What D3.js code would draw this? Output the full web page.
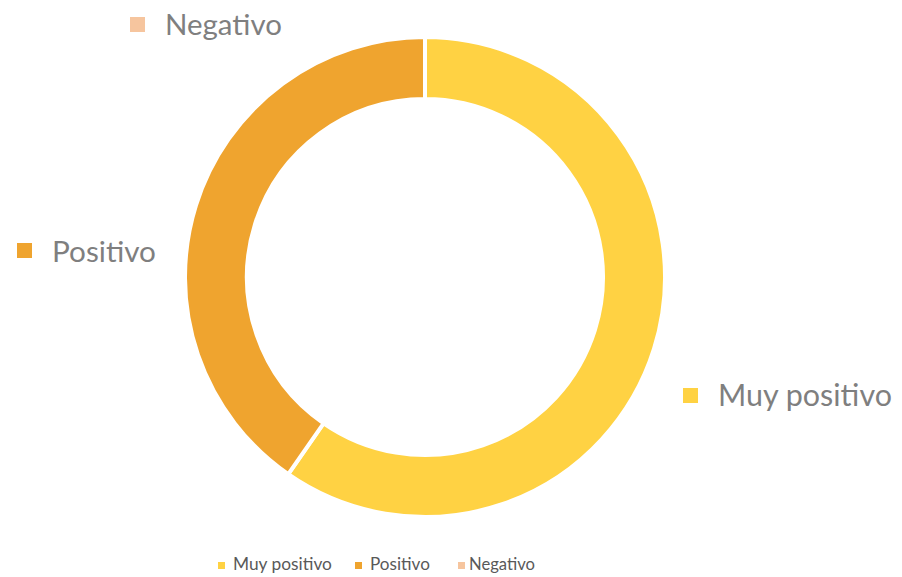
<!DOCTYPE html>
<html><head><meta charset="utf-8">
<script src="https://cdn.jsdelivr.net/npm/d3@7/dist/d3.min.js"></script>
<style>body{margin:0;background:#fff}svg{display:block}</style>
</head><body>
<svg id="c" width="902" height="577"></svg>
<script>
const categories = ["Muy positivo", "Positivo", "Negativo"];
const values = [34, 23, 0];
const colors = ["#FFD243", "#EFA42F", "#F6C59E"];

const svg = d3.select("#c");
const cx = 425, cy = 277, rOut = 240, rIn = 178;
const font = "Lato, 'Open Sans', sans-serif";
const textColor = "#7F7F7F";

const color = d3.scaleOrdinal().domain(categories).range(colors);
const data = categories.map((c, i) => ({cat: c, value: values[i]}));
const pie = d3.pie().value(d => d.value).sort(null);
const arc = d3.arc().innerRadius(rIn).outerRadius(rOut);

const g = svg.append("g").attr("transform", `translate(${cx},${cy})`);
g.selectAll("path").data(pie(data)).join("path")
  .attr("d", arc)
  .attr("fill", d => color(d.data.cat))
  .attr("stroke", "#fff").attr("stroke-width", 4).attr("stroke-linejoin", "miter");

function fitText(sel, w) {
  const n = sel.node();
  const len = n.getComputedTextLength();
  const fs = parseFloat(sel.attr("font-size"));
  sel.attr("font-size", fs * w / len);
}

// data labels (category names)
const labels = [
  {cat: "Muy positivo", sx: 683, sy: 388, s: 15, tx: 718, ty: 406, w: 174},
  {cat: "Positivo", sx: 17, sy: 243, s: 15, tx: 52, ty: 262, w: 104},
  {cat: "Negativo", sx: 130, sy: 17, s: 15, tx: 165, ty: 35, w: 117}
];
labels.forEach(l => {
  svg.append("rect").attr("x", l.sx).attr("y", l.sy).attr("width", l.s).attr("height", l.s)
    .attr("fill", color(l.cat));
  const t = svg.append("text").attr("x", l.tx).attr("y", l.ty)
    .attr("font-family", font).attr("font-size", 28).attr("fill", textColor).text(l.cat);
  fitText(t, l.w);
});

// legend
const legend = [
  {cat: "Muy positivo", sx: 218, tx: 233, w: 99},
  {cat: "Positivo", sx: 355, tx: 370, w: 60},
  {cat: "Negativo", sx: 458, tx: 469, w: 66}
];
legend.forEach(l => {
  svg.append("rect").attr("x", l.sx).attr("y", 562).attr("width", 7).attr("height", 7)
    .attr("fill", color(l.cat));
  const t = svg.append("text").attr("x", l.tx).attr("y", 570)
    .attr("font-family", font).attr("font-size", 15).attr("fill", "#595959").text(l.cat);
  fitText(t, l.w);
});
</script>
</body></html>
